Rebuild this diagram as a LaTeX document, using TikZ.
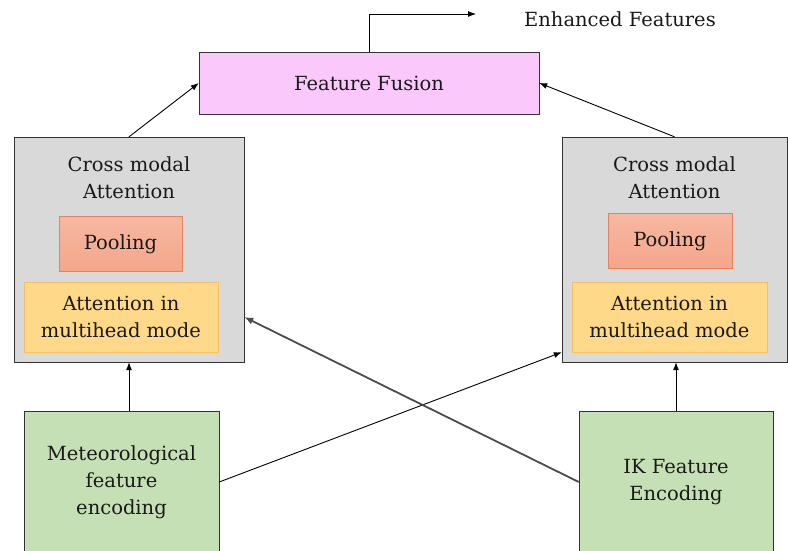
\documentclass[tikz,border=0pt]{standalone}
\usepackage{fontspec}
\setmainfont{DejaVu Serif}
\usetikzlibrary{positioning, arrows.meta}

\definecolor{fusionpink}{RGB}{250,200,250}
\definecolor{crossgray}{RGB}{217,217,217}
\definecolor{poolsalmon}{RGB}{244,166,138}
\definecolor{pooledge}{RGB}{228,130,100}
\definecolor{attnyellow}{RGB}{255,217,138}
\definecolor{attnedge}{RGB}{245,192,96}
\definecolor{encgreen}{RGB}{198,224,181}

\begin{document}
\begin{tikzpicture}[x=1pt, y=-1pt,
every node/.style={font=\fontsize{19.5}{27}\selectfont, text=black!90, align=center},
fusionbox/.style={rectangle, draw=black!80, fill=fusionpink, thin, minimum width=340pt, minimum height=62pt},
crossbox/.style={rectangle, draw=black!80, fill=crossgray, thin, minimum height=225pt},
poolbox/.style={rectangle, draw=pooledge, top color=poolsalmon!80, bottom color=poolsalmon, minimum height=55pt},
attnbox/.style={rectangle, draw=attnedge, fill=attnyellow, minimum width=194pt, minimum height=70pt},
encbox/.style={rectangle, draw=black!80, fill=encgreen, thin, minimum width=195pt, minimum height=142pt},
plainline/.style={-{Latex[length=8pt, width=6pt]}, line width=0.9pt},
]
\useasboundingbox (0,0) rectangle (788,550);

%Nodes
\node[fusionbox]                      (fusion)   at (369,83)    {Feature Fusion};
\node[inner sep=0pt, anchor=west]     (enhanced) at (524,19)    {Enhanced Features};
\coordinate                           (outpt)    at (476,14);

\node[crossbox, minimum width=230pt]  (crossL)   at (129,249.5) {};
\node[below=16pt of crossL.north]     (titleL)                  {Cross modal\\Attention};
\node[poolbox, minimum width=123pt]   (poolL)    at (120.5,244) {Pooling};
\node[attnbox]                        (attnL)    at (121,317)   {Attention in\\multihead mode};

\node[crossbox, minimum width=225pt]  (crossR)   at (674.5,249.5) {};
\node[below=16pt of crossR.north]     (titleR)                  {Cross modal\\Attention};
\node[poolbox, minimum width=124pt]   (poolR)    at (670,241)   {Pooling};
\node[attnbox, minimum width=195pt]   (attnR)    at (669.5,317) {Attention in\\multihead mode};

\node[encbox]                         (metenc)   at (121.5,482) {Meteorological\\feature\\encoding};
\node[encbox, minimum width=194pt]    (ikenc)    at (676,482)   {IK Feature\\Encoding};

%Lines
\draw[plainline] (fusion.north) |- (outpt);
\draw[plainline] (crossL.north) -- (fusion.west);
\draw[plainline] (crossR.north) -- (fusion.east);
\draw[plainline] (metenc.north -| crossL.south) -- (crossL.south);
\draw[plainline] (ikenc.north) -- (ikenc.north |- crossR.south);
\draw[plainline] (metenc.east) -- ([yshift=10pt]crossR.south west);
\draw[-{Latex[length=9pt, width=7pt]}, line width=1.8pt, draw=black!70] (ikenc.west) -- (crossL.east |- attnL.center);

\end{tikzpicture}
\end{document}
